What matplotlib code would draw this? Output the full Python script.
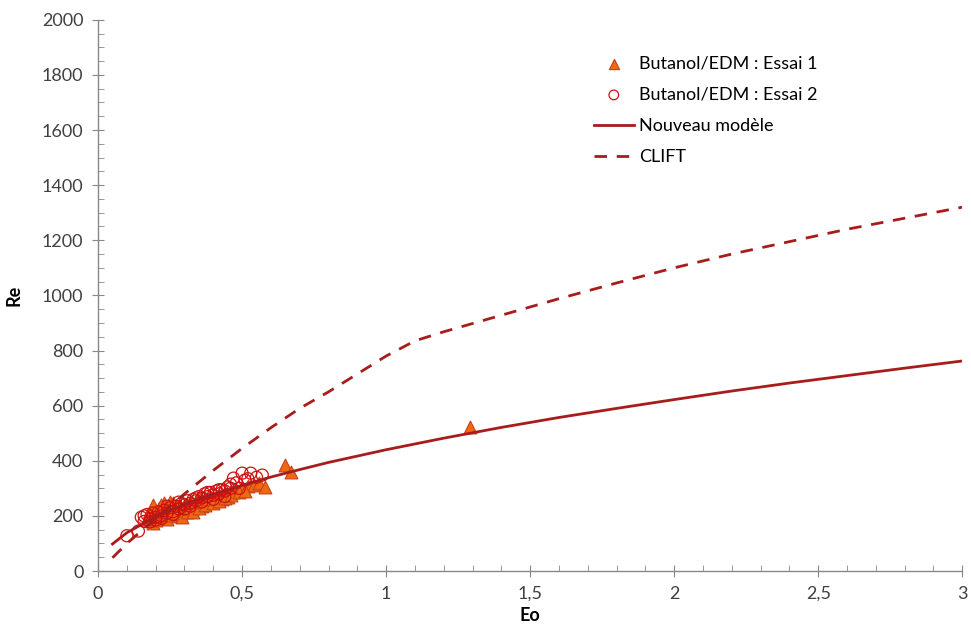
import numpy as np
import matplotlib.pyplot as plt
from matplotlib.ticker import MultipleLocator, FuncFormatter

# Essai 1 (triangles)
eo_essai1 = [0.17, 0.18, 0.19, 0.19, 0.20, 0.21, 0.22, 0.23, 0.23, 0.24, 0.25, 0.26,
             0.27, 0.28, 0.29, 0.30, 0.31, 0.32, 0.33, 0.34, 0.35, 0.36, 0.37, 0.38,
             0.39, 0.40, 0.41, 0.42, 0.43, 0.44, 0.45, 0.46, 0.47, 0.48, 0.50, 0.52,
             0.54, 0.56, 0.58, 0.65, 0.67, 1.29,
             0.18, 0.20, 0.21, 0.22, 0.24, 0.25, 0.26, 0.27, 0.28, 0.29, 0.31, 0.32,
             0.33, 0.34, 0.35, 0.36, 0.37, 0.38, 0.40, 0.42, 0.44, 0.46, 0.49, 0.51]
re_essai1 = [190, 215, 240, 175, 200, 230, 205, 245, 215, 190, 250, 220,
             235, 200, 215, 235, 225, 245, 230, 240, 255, 235, 265, 250,
             270, 255, 265, 275, 260, 280, 270, 290, 285, 295, 300, 310,
             312, 320, 305, 385, 360, 523,
             205, 185, 215, 240, 225, 205, 245, 210, 240, 195, 215, 230,
             215, 255, 230, 250, 240, 260, 245, 255, 265, 275, 285, 290]

# Essai 2 (circles)
eo_essai2 = [0.10, 0.14, 0.15, 0.16, 0.17, 0.18, 0.19, 0.20, 0.21, 0.22, 0.23, 0.24,
             0.25, 0.26, 0.27, 0.28, 0.29, 0.30, 0.31, 0.32, 0.33, 0.34, 0.35, 0.36,
             0.37, 0.38, 0.39, 0.40, 0.41, 0.42, 0.43, 0.44, 0.45, 0.46, 0.47, 0.48,
             0.50, 0.51, 0.53, 0.55, 0.57,
             0.16, 0.18, 0.20, 0.22, 0.24, 0.26, 0.28, 0.30, 0.32, 0.34, 0.36, 0.38,
             0.40, 0.42, 0.44, 0.46, 0.49, 0.52]
re_essai2 = [128, 145, 195, 180, 205, 190, 210, 185, 215, 200, 220, 210,
             230, 215, 235, 225, 245, 240, 255, 245, 260, 255, 270, 265,
             280, 270, 285, 275, 290, 280, 295, 290, 305, 300, 337, 320,
             355, 330, 355, 340, 348,
             200, 178, 195, 190, 235, 205, 250, 225, 235, 265, 250, 285,
             260, 295, 270, 315, 300, 335]

# Nouveau modele (solid)
eo_model = [0.05, 0.1, 0.2, 0.3, 0.4, 0.5, 0.6, 0.7, 0.8, 0.9, 1.0, 1.2, 1.4,
            1.6, 1.8, 2.0, 2.2, 2.4, 2.6, 2.8, 3.0]
re_model = [98, 139, 197, 241, 278, 311, 341, 368, 394, 417, 440, 482, 521,
            557, 590, 622, 653, 682, 709, 736, 762]

# CLIFT (dashed)
eo_clift = [0.05, 0.1, 0.2, 0.3, 0.4, 0.5, 0.6, 0.7, 0.8, 0.9, 1.0, 1.1, 1.2,
            1.4, 1.6, 1.8, 2.0, 2.2, 2.4, 2.6, 2.8, 3.0]
re_clift = [48, 100, 190, 280, 365, 445, 520, 590, 650, 715, 780, 835, 868,
            928, 988, 1045, 1100, 1150, 1195, 1240, 1280, 1320]

plt.rcParams['font.family'] = ['Lato', 'DejaVu Sans']

fig = plt.figure(figsize=(9.71, 6.38), dpi=100)
ax = fig.add_axes([0.101, 0.105, 0.890, 0.864])

line_col = '#A81C1C'
ax.scatter(eo_essai1, re_essai1, marker='^', s=85, facecolor='#EE6A10',
           edgecolor='#C8401A', linewidth=0.8, label='Butanol/EDM : Essai 1', zorder=3)
ax.scatter(eo_essai2, re_essai2, marker='o', s=75, facecolor='none',
           edgecolor='#D01010', linewidth=0.9, label='Butanol/EDM : Essai 2', zorder=4)
ax.plot(eo_model, re_model, color=line_col, lw=2, label='Nouveau modèle', zorder=5)
ax.plot(eo_clift, re_clift, color=line_col, lw=2, ls=(0, (4.5, 3.5)), label='CLIFT', zorder=5)

ax.set_xlim(0, 3)
ax.set_ylim(0, 2000)
ax.xaxis.set_major_locator(MultipleLocator(0.5))
ax.xaxis.set_minor_locator(MultipleLocator(0.1))
ax.yaxis.set_major_locator(MultipleLocator(200))
ax.yaxis.set_minor_locator(MultipleLocator(50))
ax.xaxis.set_major_formatter(FuncFormatter(lambda v, p: ('%g' % v).replace('.', ',')))

for s in ['top', 'right']:
    ax.spines[s].set_visible(False)
for s in ['left', 'bottom']:
    ax.spines[s].set_color('#888888')
    ax.spines[s].set_linewidth(1)

ax.tick_params(which='major', direction='inout', length=9, color='#888888',
               labelsize=13, labelcolor='#404040', pad=6)
ax.tick_params(which='minor', direction='in', length=4, color='#888888')

ax.set_xlabel('Eo', fontsize=13, fontweight='bold', labelpad=4)
ax.set_ylabel('Re', fontsize=13, fontweight='bold', labelpad=14)

leg = ax.legend(loc='upper left', bbox_to_anchor=(0.555, 0.965), frameon=False,
                fontsize=13, handlelength=2.2, handletextpad=0.3, labelspacing=0.85,
                scatterpoints=1, markerscale=0.8)

fig.savefig('out.png', dpi=100)
